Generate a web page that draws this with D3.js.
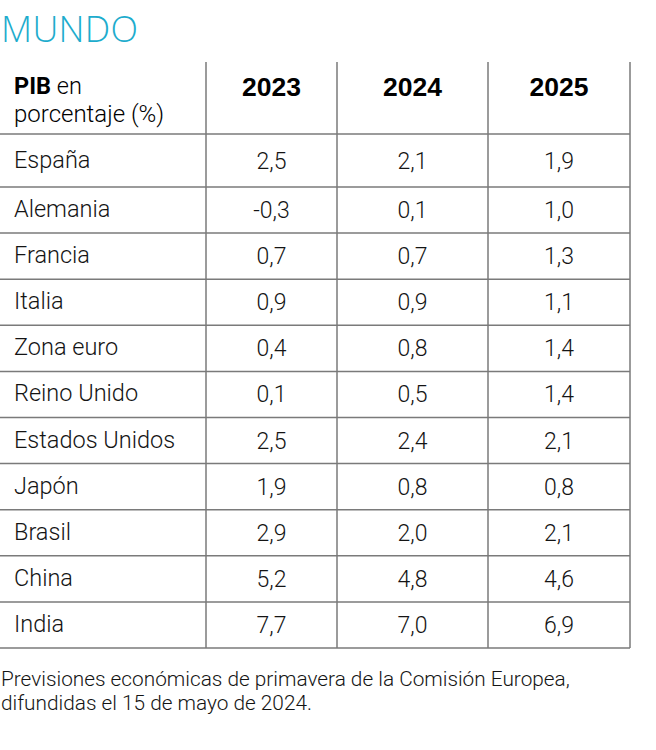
<!DOCTYPE html>
<html>
<head>
<meta charset="utf-8">
<script src="https://cdn.jsdelivr.net/npm/d3@7"></script>
<style>
  html, body { margin: 0; padding: 0; background: #fff; }
  svg { display: block; }
</style>
</head>
<body>
<div id="chart"></div>
<script>
const title = "MUNDO";
const headerBold = "PIB";
const headerRest1 = " en";
const headerRest2 = "porcentaje (%)";
const years = ["2023", "2024", "2025"];
const countries = ["España", "Alemania", "Francia", "Italia", "Zona euro", "Reino Unido",
  "Estados Unidos", "Japón", "Brasil", "China", "India"];
const v2023 = [2.5, -0.3, 0.7, 0.9, 0.4, 0.1, 2.5, 1.9, 2.9, 5.2, 7.7];
const v2024 = [2.1, 0.1, 0.7, 0.9, 0.8, 0.5, 2.4, 0.8, 2.0, 4.8, 7.0];
const v2025 = [1.9, 1.0, 1.3, 1.1, 1.4, 1.4, 2.1, 0.8, 2.1, 4.6, 6.9];
const footnote = ["Previsiones económicas de primavera de la Comisión Europea,",
  "difundidas el 15 de mayo de 2024."];

const W = 656, H = 750;
const svg = d3.select("#chart").append("svg").attr("width", W).attr("height", H);

const series = [v2023, v2024, v2025];
const fmt = v => d3.format(".1f")(v).replace(".", ",").replace("−", "-");

const colEdges = [0, 206, 337, 488, 630];
const lineColor = "#7a7a7a";
const textColor = "#141414";
const bodyFont = "Roboto, 'Liberation Sans', sans-serif";

const tableTop = 62, headerBottom = 134, firstRowBottom = 187, tableBottom = 648;
const yRows = d3.scaleBand().domain(d3.range(1, countries.length)).range([firstRowBottom, tableBottom]);
function rowTop(i) { return i === 0 ? headerBottom : yRows(i); }
function rowBottom(i) { return i === 0 ? firstRowBottom : yRows(i) + yRows.bandwidth(); }

// title
svg.append("text").attr("x", 1).attr("y", 42)
  .attr("font-family", "'Open Sans', sans-serif").attr("font-weight", 300)
  .attr("font-size", 36).attr("fill", "#1daccd").attr("letter-spacing", 0.3)
  .text(title);

// horizontal lines
const hLines = [headerBottom].concat(countries.map((c, i) => rowBottom(i)));
svg.selectAll("line.h").data(hLines).enter().append("line")
  .attr("x1", 0).attr("x2", colEdges[4])
  .attr("y1", d => d).attr("y2", d => d)
  .attr("stroke", lineColor).attr("stroke-width", 1.5);

// vertical lines
svg.selectAll("line.v").data(colEdges.slice(1)).enter().append("line")
  .attr("x1", d => d).attr("x2", d => d)
  .attr("y1", tableTop).attr("y2", tableBottom)
  .attr("stroke", lineColor).attr("stroke-width", 1.5);

// header
const hdr = svg.append("text").attr("x", 14).attr("y", 94)
  .attr("font-family", bodyFont).attr("font-size", 23.5).attr("fill", "#000");
hdr.append("tspan").attr("font-weight", 700).text(headerBold);
hdr.append("tspan").attr("font-weight", 300).text(headerRest1);
svg.append("text").attr("x", 14).attr("y", 122)
  .attr("font-family", bodyFont).attr("font-size", 24).attr("font-weight", 300).attr("fill", "#000")
  .text(headerRest2);

svg.selectAll("text.year").data(years).enter().append("text")
  .attr("x", (d, i) => (colEdges[i + 1] + colEdges[i + 2]) / 2)
  .attr("y", 96).attr("text-anchor", "middle")
  .attr("font-family", "'Liberation Sans', Arial, sans-serif").attr("font-weight", 700)
  .attr("font-size", 26.5).attr("fill", "#000").text(d => d);

// rows
const rows = svg.selectAll("g.row").data(countries).enter().append("g");
rows.append("text")
  .attr("x", 14).attr("y", (d, i) => (rowTop(i) + rowBottom(i)) / 2 + 7)
  .attr("font-family", bodyFont).attr("font-weight", 300).attr("font-size", 23.5)
  .attr("fill", textColor).text(d => d);

series.forEach((s, j) => {
  rows.append("text")
    .attr("x", (colEdges[j + 1] + colEdges[j + 2]) / 2)
    .attr("y", (d, i) => (rowTop(i) + rowBottom(i)) / 2 + 8)
    .attr("text-anchor", "middle")
    .attr("font-family", bodyFont).attr("font-weight", 300).attr("font-size", 23)
    .attr("fill", textColor).text((d, i) => fmt(s[i]));
});

// footnote
svg.selectAll("text.foot").data(footnote).enter().append("text")
  .attr("x", 1).attr("y", (d, i) => 686 + i * 24)
  .attr("font-family", bodyFont).attr("font-weight", 300).attr("font-size", 20.8)
  .attr("fill", textColor).text(d => d);
</script>
</body>
</html>
